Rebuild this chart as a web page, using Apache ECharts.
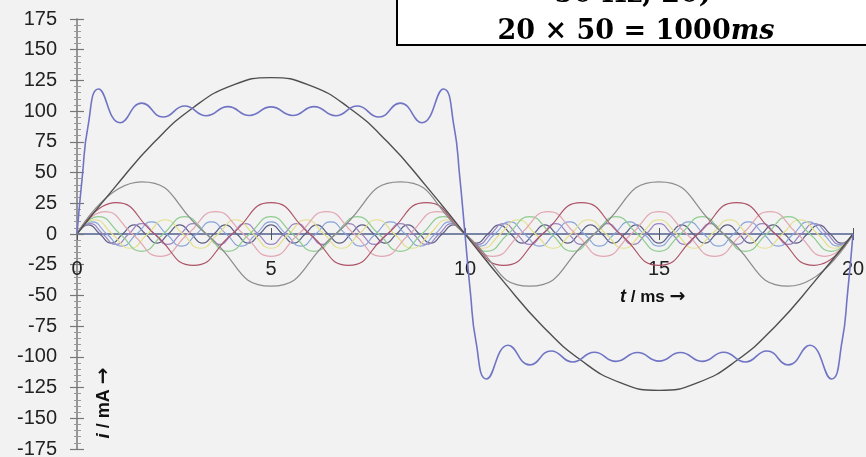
<!DOCTYPE html>
<html>
<head>
<meta charset="utf-8">
<script src="https://cdn.jsdelivr.net/npm/echarts@6/dist/echarts.min.js"></script>
<style>
html,body{margin:0;padding:0;background:#f2f2f2;}
#chart{width:866px;height:457px;}
</style>
</head>
<body>
<div id="chart"></div>
<script>
// ---- data ----
// odd harmonics of a 100 mA square wave, period 20 ms
const harmonicOrders = [1, 3, 5, 7, 9, 11, 13, 15, 17];
// peak current of each harmonic (mA)
const harmonicPeaks = [127.3, 42.4, 25.5, 18.2, 14.1, 11.6, 9.8, 8.5, 7.5];
// fundamental read every 1 ms (mA)
const fundamentalTimes = [0,1,2,3,4,5,6,7,8,9,10,11,12,13,14,15,16,17,18,19,20];
const fundamentalValues = [0,39,75,103,121,127.3,121,103,75,39,0,-39,-75,-103,-121,-127.3,-121,-103,-75,-39,0];
// sum of the harmonics (blue curve): edges and ripple extremes (ms, mA)
const sumTimes = [0,0.14,0.28,0.556,1.111,1.667,2.222,2.778,3.333,3.889,4.444,5,5.556,6.111,6.667,7.222,7.778,8.333,8.889,9.444,9.72,9.86,
  10,10.14,10.28,10.556,11.111,11.667,12.222,12.778,13.333,13.889,14.444,15,15.556,16.111,16.667,17.222,17.778,18.333,18.889,19.444,19.72,19.86,20];
const sumValues = [0,48,87,118,90.5,106.5,95.2,104.2,96.3,103.7,96.5,103.5,96.5,103.7,96.3,104.2,95.2,106.5,90.5,118,87,48,
  0,-48,-87,-118,-90.5,-106.5,-95.2,-104.2,-96.3,-103.7,-96.5,-103.5,-96.5,-103.7,-96.3,-104.2,-95.2,-106.5,-90.5,-118,-87,-48,0];
const periodMs = 20;
const xMin = 0, xMax = 20, xStep = 5;
const yMin = -175, yMax = 175, yStep = 25;

// ---- styles ----
const harmonicColors = ['#4f4f4f','#8c8c8c','#ad5367','#e2a7b2','#8fcc8f','#e3df86','#86a3d8','#9c84c4','#5f6184'];
const FONT = '"Liberation Sans", Arial, sans-serif';

// harmonic n: zero / peak / zero / trough points each quarter period
function harmonicPoints(n, peak) {
  const q = periodMs / (4 * n);
  const pattern = [0, peak, 0, -peak];
  const pts = [];
  for (let k = 0; k <= 4 * n; k++) pts.push([k * q, pattern[k % 4]]);
  return pts;
}

const series = [];
harmonicOrders.forEach((n, i) => {
  const data = n === 1
    ? fundamentalTimes.map((t, j) => [t, fundamentalValues[j]])
    : harmonicPoints(n, harmonicPeaks[i]);
  series.push({
    type: 'line', xAxisIndex: 0, yAxisIndex: 0, data,
    smooth: n === 1 ? 0.5 : 0.55, showSymbol: false, symbol: 'none',
    lineStyle: { color: harmonicColors[i], width: n === 1 ? 1.4 : 1.2 },
    z: 3 + (harmonicOrders.length - i)
  });
});
series.push({
  type: 'line', xAxisIndex: 0, yAxisIndex: 0,
  data: sumTimes.map((t, j) => [t, sumValues[j]]),
  smooth: 0.5, showSymbol: false, symbol: 'none',
  lineStyle: { color: '#7074c4', width: 1.6 }, z: 20
});

const chart = echarts.init(document.getElementById('chart'), null, { renderer: 'canvas' });
// grid 0: the plot; grid 1: its upper half, whose bottom edge is the zero line (carries the t axis)
const plotTop = 19, plotBottom = 8, H = 457;
const zeroY = plotTop + (H - plotTop - plotBottom) * yMax / (yMax - yMin);
const gridBase = { left: 77, right: 13, containLabel: false, outerBoundsMode: 'none' };
const xCommon = { type: 'value', min: xMin, max: xMax, interval: xStep, position: 'bottom', splitLine: { show: false } };

chart.setOption({
  backgroundColor: '#f2f2f2',
  animation: false,
  grid: [
    Object.assign({}, gridBase, { top: plotTop, bottom: plotBottom }),
    Object.assign({}, gridBase, { top: plotTop, bottom: H - zeroY })
  ],
  xAxis: [
    Object.assign({}, xCommon, { gridIndex: 0,
      axisLine: { show: false, onZero: false }, axisTick: { show: false }, axisLabel: { show: false } }),
    Object.assign({}, xCommon, { gridIndex: 1,
      axisLine: { show: true, onZero: false, lineStyle: { color: '#7985a6', width: 2 } },
      axisTick: { show: true, length: 6, lineStyle: { color: '#555', width: 1 } },
      axisLabel: { margin: 25, fontSize: 20, color: '#222', fontFamily: FONT } }),
    Object.assign({}, xCommon, { gridIndex: 1,
      axisLine: { show: false, onZero: false },
      axisTick: { show: true, inside: true, length: 6, lineStyle: { color: '#555', width: 1 } },
      axisLabel: { show: false } })
  ],
  yAxis: [
    { type: 'value', gridIndex: 0, min: yMin, max: yMax, interval: yStep, position: 'left', splitLine: { show: false },
      axisLine: { show: true, onZero: false, lineStyle: { color: '#777', width: 1.5 } },
      axisTick: { show: true, length: 7, lineStyle: { color: '#777', width: 1.2 } },
      minorTick: { show: true, splitNumber: 5, length: 3, lineStyle: { color: '#999' } },
      axisLabel: { margin: 20, fontSize: 20, color: '#222', fontFamily: FONT } },
    { type: 'value', gridIndex: 0, min: yMin, max: yMax, interval: yStep, position: 'left', splitLine: { show: false },
      axisLine: { show: false, onZero: false },
      axisTick: { show: true, inside: true, length: 7, lineStyle: { color: '#777', width: 1.2 } },
      minorTick: { show: true, splitNumber: 5, length: 4, lineStyle: { color: '#999' } },
      axisLabel: { show: false } },
    { type: 'value', gridIndex: 1, min: 0, max: yMax, show: false }
  ],
  series,
  graphic: [
    { type: 'rect', z: 100, shape: { x: 397, y: -10, width: 480, height: 55 },
      style: { fill: '#ffffff', stroke: '#000', lineWidth: 2 } },
    { type: 'text', z: 101, x: 633, y: -19,
      style: { text: '50 Hz, 20)', font: 'bold 27px "DejaVu Serif", serif', fill: '#000', textAlign: 'center', textVerticalAlign: 'top' } },
    { type: 'text', z: 101, x: 636, y: 18,
      style: { text: '{a|20 × 50 = 1000}{b|ms}', textAlign: 'center', textVerticalAlign: 'top',
        rich: { a: { font: 'bold 27px "DejaVu Serif", serif', fill: '#000' }, b: { font: 'italic bold 27px "DejaVu Serif", serif', fill: '#000' } } } },
    { type: 'text', z: 50, x: 620, y: 288,
      style: { text: '{t|t}{r| / ms }{a|→}', textVerticalAlign: 'top',
        rich: { t: { font: 'italic bold 18px ' + FONT, fill: '#111' }, r: { font: 'bold 17px ' + FONT, fill: '#111' },
                a: { font: 'bold 19px "DejaVu Sans", sans-serif', fill: '#111' } } } },
    { type: 'text', z: 50, x: 104, y: 403, rotation: Math.PI / 2,
      style: { text: '{t|i}{r| / mA }{a|→}', textAlign: 'center', textVerticalAlign: 'middle',
        rich: { t: { font: 'italic bold 19px ' + FONT, fill: '#111' }, r: { font: 'bold 18px ' + FONT, fill: '#111' },
                a: { font: 'bold 20px "DejaVu Sans", sans-serif', fill: '#111' } } } }
  ]
});
</script>
</body>
</html>
